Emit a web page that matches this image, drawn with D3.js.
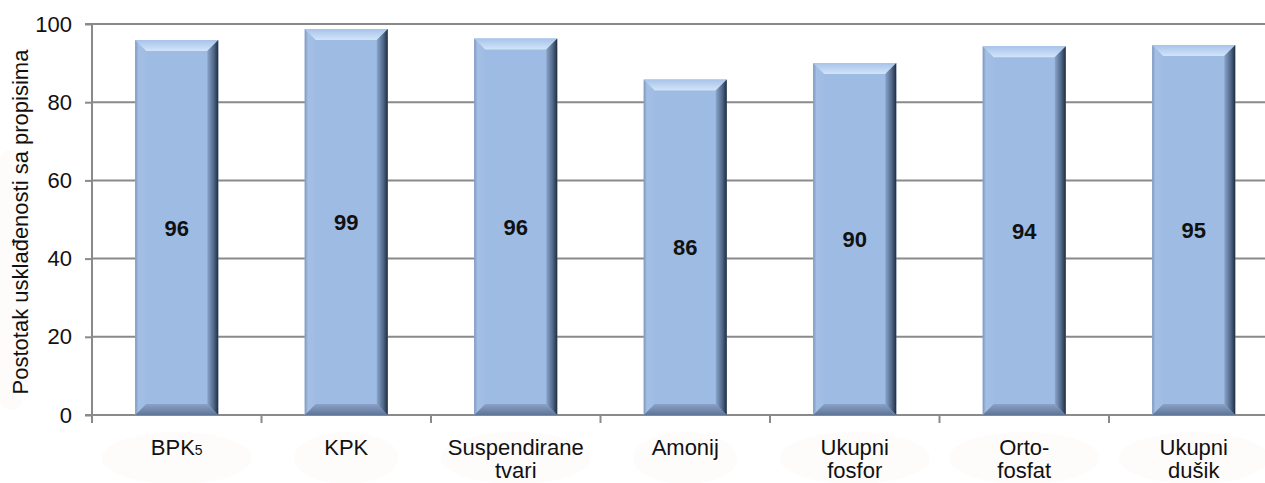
<!DOCTYPE html>
<html><head><meta charset="utf-8">
<script src="https://cdn.jsdelivr.net/npm/d3@7/dist/d3.min.js"></script>
<style>body{margin:0;background:#fff}svg{display:block}text{font-family:"Liberation Sans",Arial,sans-serif}</style>
</head><body><svg id="c" width="1265" height="483"></svg>
<script>
const categories = ["BPK5","KPK","Suspendirane tvari","Amonij","Ukupni fosfor","Orto- fosfat","Ukupni dušik"];
const labelLines = [["BPK","5"],["KPK"],["Suspendirane","tvari"],["Amonij"],["Ukupni","fosfor"],["Orto-","fosfat"],["Ukupni","dušik"]];
const values = [95.9, 98.7, 96.3, 85.8, 90.0, 94.3, 94.6];
const yTicks = [0,20,40,60,80,100];
const yTitle = "Postotak usklađenosti sa propisima";

const svg = d3.select("#c");
const W = 1265, pL = 92, pT = 24, pB = 415;
const x = d3.scaleBand().domain(categories).range([pL, pL + 7*169.5]).padding(0);
const y = d3.scaleLinear().domain([0,100]).range([pB, pT]);

const defs = svg.append("defs");
function lg(id, x1,y1,x2,y2, stops){
  const g = defs.append("linearGradient").attr("id",id).attr("x1",x1).attr("y1",y1).attr("x2",x2).attr("y2",y2);
  stops.forEach(s=>g.append("stop").attr("offset",s[0]).attr("stop-color",s[1]));
}
lg("gTop",0,0,0,1,[[0,"#a8c3ea"],[1,"#d2e5f9"]]);
lg("gRight",0,0,1,0,[[0,"#8aa5cb"],[0.6,"#4f6686"],[1,"#202c3d"]]);
lg("gBottom",0,0,0,1,[[0,"#8aa2c6"],[1,"#5f7598"]]);
lg("gLeft",0,0,1,0,[[0,"#7f97bb"],[0.3,"#a4bfe5"],[1,"#a0bce4"]]);

// faint background blobs
const blobs = svg.append("g");
blobs.append("rect").attr("x",0).attr("y",150).attr("width",22).attr("height",260).attr("rx",10).attr("fill","#fefbfb");
categories.forEach((c,i)=>{
  blobs.append("ellipse").attr("cx",x(c)+x.bandwidth()/2).attr("cy",458).attr("rx",labelLines[i].length>1?75:52).attr("ry",26).attr("fill","#fefbfb");
});

// gridlines
svg.append("g").selectAll("line").data(yTicks.filter(t=>t>0)).join("line")
  .attr("x1",pL).attr("x2",W).attr("y1",d=>y(d)).attr("y2",d=>y(d))
  .attr("stroke","#8a8a8a").attr("stroke-width",2);

// y axis
const ya = svg.append("g").attr("transform",`translate(${pL},0)`)
  .call(d3.axisLeft(y).tickValues(yTicks).tickSize(7).tickPadding(13));
ya.select(".domain").attr("stroke","#8a8a8a").attr("stroke-width",2).attr("d",`M-7,${pT}H0V${pB}H-7`);
ya.selectAll(".tick line").attr("stroke","#8a8a8a").attr("stroke-width",2);
ya.selectAll(".tick text").attr("font-size",22).attr("fill","#111").attr("font-family","Liberation Sans, Arial, sans-serif");

// x axis
const boundaries = categories.map(c=>x(c)).concat([x.range()[1]]);
svg.append("line").attr("x1",pL).attr("x2",W).attr("y1",pB).attr("y2",pB).attr("stroke","#8a8a8a").attr("stroke-width",2);
svg.append("g").selectAll("line").data(boundaries).join("line")
  .attr("x1",d=>d).attr("x2",d=>d).attr("y1",pB).attr("y2",pB+8)
  .attr("stroke","#8a8a8a").attr("stroke-width",2);

// bars
const bw = x.bandwidth()*0.49, b = 11;
const bars = svg.append("g");
categories.forEach((c,i)=>{
  const cx = x(c)+x.bandwidth()/2, x0 = cx-bw/2, x1 = cx+bw/2, y0 = y(values[i]), y1 = y(0);
  const g = bars.append("g");
  g.append("rect").attr("x",x0).attr("y",y0).attr("width",bw).attr("height",y1-y0).attr("fill","#9dbbe3");
  const poly = (pts,fill)=>g.append("polygon").attr("points",pts.map(p=>p.join(",")).join(" ")).attr("fill",fill);
  poly([[x0,y0],[x0+b,y0+b],[x0+b,y1-b],[x0,y1]],"url(#gLeft)");
  poly([[x0,y1],[x0+b,y1-b],[x1-b,y1-b],[x1,y1]],"url(#gBottom)");
  poly([[x0,y0],[x1,y0],[x1-b,y0+b],[x0+b,y0+b]],"url(#gTop)");
  poly([[x1,y0],[x1,y1],[x1-b,y1-b],[x1-b,y0+b]],"url(#gRight)");
  g.append("text").attr("x",cx).attr("y",(y0+y1)/2+8).attr("text-anchor","middle")
    .attr("font-size",22).attr("font-weight","bold").attr("fill","#111").text(d3.format(".0f")(values[i]));
});

// x labels
categories.forEach((c,i)=>{
  const cx = x(c)+x.bandwidth()/2;
  const L = labelLines[i];
  if (c === "BPK5") {
    const t = svg.append("text").attr("x",cx).attr("y",455).attr("text-anchor","middle").attr("font-size",22).attr("fill","#111");
    t.append("tspan").text(L[0]);
    t.append("tspan").attr("font-size",14).text(L[1]);
  } else {
    L.forEach((s,j)=>svg.append("text").attr("x",cx).attr("y",455+j*23).attr("text-anchor","middle").attr("font-size",22).attr("fill","#111").text(s));
  }
});

// y title
svg.append("text").attr("transform","translate(28,222) rotate(-90)").attr("text-anchor","middle")
  .attr("font-size",22).attr("fill","#111").text(yTitle);
</script></body></html>
